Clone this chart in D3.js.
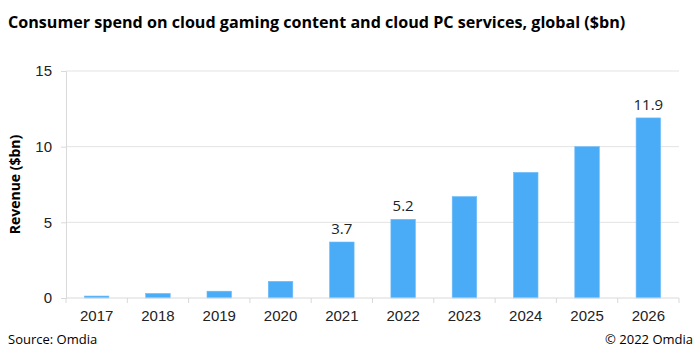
<!DOCTYPE html>
<html>
<head>
<meta charset="utf-8">
<script src="https://cdn.jsdelivr.net/npm/d3@7"></script>
<style>
  body { margin: 0; background: #fff; }
  svg { font-family: "Open Sans", "Liberation Sans", sans-serif; }
</style>
</head>
<body>
<div id="chart"></div>
<script>
// Data
const years = ["2017", "2018", "2019", "2020", "2021", "2022", "2023", "2024", "2025", "2026"];
const revenue = [0.13, 0.3, 0.45, 1.1, 3.7, 5.2, 6.7, 8.3, 10.0, 11.9];
const labelled = ["2021", "2022", "2026"];
const yTicks = [0, 5, 10, 15];

const W = 700, H = 351;
const margin = { top: 71, right: 21, bottom: 53, left: 66 };
const width = W - margin.left - margin.right;
const height = H - margin.top - margin.bottom;

const svg = d3.select("#chart").append("svg")
    .attr("width", W)
    .attr("height", H);

// Title, squeezed to the reference width
const title = svg.append("text")
    .attr("x", 8)
    .attr("y", 28)
    .style("font-weight", "bold")
    .style("font-size", "18px")
    .attr("fill", "#000")
    .text("Consumer spend on cloud gaming content and cloud PC services, global ($bn)");
const tw = title.node().getComputedTextLength();
title.style("font-size", (18 * 618 / tw) + "px");

const g = svg.append("g")
    .attr("transform", `translate(${margin.left},${margin.top})`);

const x = d3.scaleBand()
    .domain(years)
    .range([0, width])
    .paddingInner(0.6)
    .paddingOuter(0.3);

const y = d3.scaleLinear()
    .domain([0, 15])
    .range([height, 0]);

// Gridlines
g.selectAll(".grid")
    .data(yTicks.filter(d => d > 0))
    .join("line")
    .attr("class", "grid")
    .attr("x1", 0)
    .attr("x2", width)
    .attr("y1", d => y(d))
    .attr("y2", d => y(d))
    .attr("stroke", "#e3e3e3")
    .attr("stroke-width", 1);

// Y axis
const yAxis = g.append("g")
    .call(d3.axisLeft(y).tickValues(yTicks).tickSize(5).tickPadding(9));
yAxis.select(".domain").attr("stroke", "#d9d9d9");
yAxis.selectAll(".tick line").attr("stroke", "#d9d9d9");
yAxis.selectAll(".tick text")
    .style("font-size", "15px")
    .attr("fill", "#222");

// Bars
g.selectAll(".bar")
    .data(years.map((yr, i) => ({ yr, v: revenue[i] })))
    .join("rect")
    .attr("class", "bar")
    .attr("x", d => x(d.yr))
    .attr("y", d => y(d.v))
    .attr("width", x.bandwidth())
    .attr("height", d => y(0) - y(d.v))
    .attr("fill", "#4aacf7")
    .attr("stroke", "#6dbcf9")
    .attr("stroke-width", 0.6);

// X axis
const xAxis = g.append("g")
    .attr("transform", `translate(0,${height})`)
    .call(d3.axisBottom(x).tickSize(0).tickPadding(12));
xAxis.select(".domain").attr("stroke", "#d9d9d9").attr("d", `M0,0H${width}`);
xAxis.selectAll(".tick text")
    .style("font-size", "15px")
    .attr("fill", "#222");

// Category boundary ticks
const step = x.step();
g.selectAll(".xtick")
    .data(d3.range(years.length + 1))
    .join("line")
    .attr("class", "xtick")
    .attr("x1", i => i * width / years.length)
    .attr("x2", i => i * width / years.length)
    .attr("y1", height)
    .attr("y2", height + 5)
    .attr("stroke", "#d9d9d9");

// Value labels
g.selectAll(".val")
    .data(years.map((yr, i) => ({ yr, v: revenue[i] })).filter(d => labelled.includes(d.yr)))
    .join("text")
    .attr("class", "val")
    .attr("x", d => x(d.yr) + x.bandwidth() / 2)
    .attr("y", d => y(d.v) - 8)
    .attr("text-anchor", "middle")
    .style("font-size", "15px")
    .attr("fill", "#222")
    .text(d => d.v.toFixed(1));

// Axis title
svg.append("text")
    .attr("transform", `translate(20,${margin.top + height / 2}) rotate(-90)`)
    .attr("text-anchor", "middle")
    .style("font-weight", "bold")
    .style("font-size", "14px")
    .attr("fill", "#000")
    .text("Revenue ($bn)");

// Footer
svg.append("text")
    .attr("x", 8)
    .attr("y", 344)
    .style("font-size", "13px")
    .attr("fill", "#000")
    .text("Source: Omdia");

svg.append("text")
    .attr("x", 693)
    .attr("y", 344)
    .attr("text-anchor", "end")
    .style("font-size", "13px")
    .attr("fill", "#000")
    .text("© 2022 Omdia");
</script>
</body>
</html>
